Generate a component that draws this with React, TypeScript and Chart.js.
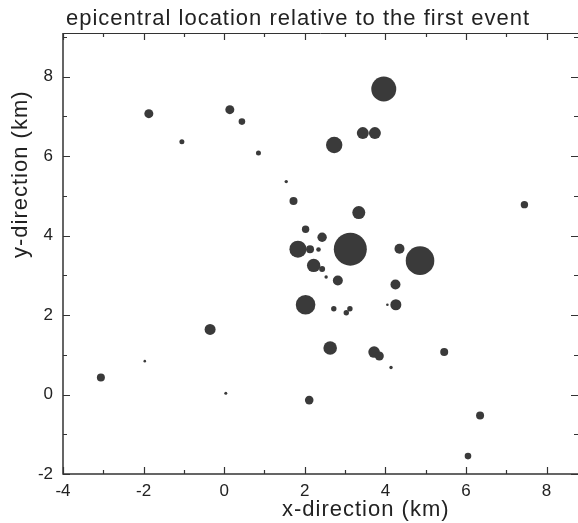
import React, { useEffect, useRef } from 'react';
import { Chart, registerables } from 'chart.js';

Chart.register(...registerables);

// Epicentre offsets relative to the first event (km)
const xKm = [
  -1.87, -1.05, 0.14, 0.44, 0.85, 3.96, 3.44, 3.74, 2.73, 1.54,
  1.72, 3.34, 2.02, 2.43, 1.83, 2.13, 2.34, 3.13, 4.35, 4.86,
  2.22, 2.43, 2.53, 2.82, 4.25, 2.02, 2.72, 3.12, 3.03, 4.05,
  4.26, 2.63, 3.72, 3.85, 4.14, 5.46, 7.45, 6.35, 6.05, 2.11,
  -3.06, -1.97, -0.35, 0.04,
];
const yKm = [
  7.07, 6.36, 7.17, 6.87, 6.08, 7.69, 6.58, 6.58, 6.28, 5.36,
  4.87, 4.58, 4.16, 3.96, 3.66, 3.66, 3.65, 3.66, 3.67, 3.37,
  3.25, 3.16, 2.96, 2.87, 2.77, 2.26, 2.16, 2.16, 2.06, 2.26,
  2.26, 1.17, 1.07, 0.97, 0.68, 1.07, 4.78, -0.53, -1.55, -0.14,
  0.43, 0.84, 1.64, 0.03,
];
// symbol size (event magnitude encoded as bubble radius)
const sizes = [
  4.5, 2.5, 4.5, 3.3, 2.5, 12.5, 6, 6, 8.2, 1.7,
  4, 6.5, 3.7, 4.7, 8.5, 4, 2.3, 16.5, 5, 14.3,
  6.7, 3, 1.7, 5, 5, 9.8, 2.7, 2.7, 2.7, 1.3,
  5.5, 6.8, 5.8, 4.5, 1.7, 4, 3.7, 4, 3.3, 4.3,
  4, 1.3, 5.5, 1.5,
];

const xTickValues = [-4, -2, 0, 2, 4, 6, 8];
const yTickValues = [-2, 0, 2, 4, 6, 8];

const TITLE = 'epicentral location relative to the first event';
const X_TITLE = 'x-direction (km)';
const Y_TITLE = 'y-direction (km)';

const FONT = '"Liberation Sans", Arial, Helvetica, sans-serif';
const INK = '#333333';
const TEXT = '#222222';
const DOT = '#3a3a3a';

const framePlugin = {
  id: 'frame',
  afterDraw(chart: any) {
    const { ctx, chartArea: a, scales } = chart;
    const xs = scales.x;
    const ys = scales.y;
    ctx.save();
    ctx.strokeStyle = INK;
    // left + bottom axis lines
    ctx.lineWidth = 1.5;
    ctx.beginPath();
    ctx.moveTo(a.left, a.top);
    ctx.lineTo(a.left, a.bottom);
    ctx.lineTo(a.right, a.bottom);
    ctx.stroke();
    // top frame line
    ctx.lineWidth = 1;
    ctx.beginPath();
    ctx.moveTo(a.left, a.top + 0.5);
    ctx.lineTo(a.right, a.top + 0.5);
    ctx.stroke();
    // inward tick marks on all sides
    ctx.lineWidth = 1.2;
    ctx.beginPath();
    for (let v = Math.ceil(xs.min); v <= xs.max; v++) {
      const p = Math.round(xs.getPixelForValue(v)) + 0.5;
      const len = v % 2 === 0 ? 7 : 4;
      ctx.moveTo(p, a.bottom);
      ctx.lineTo(p, a.bottom - len);
      ctx.moveTo(p, a.top);
      ctx.lineTo(p, a.top + len);
    }
    for (let v = Math.ceil(ys.min); v <= ys.max; v++) {
      const p = Math.round(ys.getPixelForValue(v)) + 0.5;
      const len = v % 2 === 0 ? 7 : 4;
      ctx.moveTo(a.left, p);
      ctx.lineTo(a.left + len, p);
      ctx.moveTo(a.right, p);
      ctx.lineTo(a.right - len, p);
    }
    ctx.stroke();

    // titles
    ctx.fillStyle = TEXT;
    ctx.font = `22px ${FONT}`;
    (ctx as any).letterSpacing = '1px';
    ctx.textAlign = 'left';
    ctx.textBaseline = 'alphabetic';
    ctx.fillText(TITLE, 66, 25);
    ctx.fillText(X_TITLE, 282, 516);
    ctx.translate(27, 258);
    ctx.rotate(-Math.PI / 2);
    ctx.fillText(Y_TITLE, 0, 0);
    ctx.restore();
  },
};

export default function App() {
  const canvasRef = useRef<HTMLCanvasElement | null>(null);

  useEffect(() => {
    const canvas = canvasRef.current;
    if (!canvas) return;
    const points = xKm.map((x, i) => ({ x, y: yKm[i], r: sizes[i] }));
    const chart = new Chart(canvas, {
      type: 'bubble',
      data: {
        datasets: [
          {
            data: points,
            backgroundColor: DOT,
            borderWidth: 0,
            hoverRadius: 0,
          },
        ],
      },
      options: {
        responsive: false,
        animation: false,
        events: [],
        layout: { autoPadding: false, padding: { top: 33, right: 0, bottom: 0, left: 0 } },
        plugins: {
          legend: { display: false },
          tooltip: { enabled: false },
          title: { display: false },
        },
        scales: {
          x: {
            type: 'linear',
            position: 'bottom',
            min: -4,
            max: 8.78,
            grid: { display: false, drawTicks: false },
            border: { display: false },
            ticks: {
              color: TEXT,
              font: { family: FONT, size: 17 },
              padding: 7,
              maxRotation: 0,
            },
            afterBuildTicks: (s: any) => {
              s.ticks = xTickValues.map((value) => ({ value }));
            },
            afterFit: (s: any) => {
              s.height = 49;
            },
          },
          y: {
            type: 'linear',
            position: 'left',
            min: -2,
            max: 9.1,
            grid: { display: false, drawTicks: false },
            border: { display: false },
            ticks: {
              color: TEXT,
              font: { family: FONT, size: 17 },
              padding: 10,
            },
            afterBuildTicks: (s: any) => {
              s.ticks = yTickValues.map((value) => ({ value }));
            },
            afterFit: (s: any) => {
              s.width = 63;
            },
          },
        },
      },
      plugins: [framePlugin],
    });
    return () => chart.destroy();
  }, []);

  return (
    <div style={{ position: 'fixed', left: 0, top: 0, width: 578, height: 523, background: '#fff' }}>
      <canvas ref={canvasRef} width={578} height={523} style={{ display: 'block' }} />
    </div>
  );
}
